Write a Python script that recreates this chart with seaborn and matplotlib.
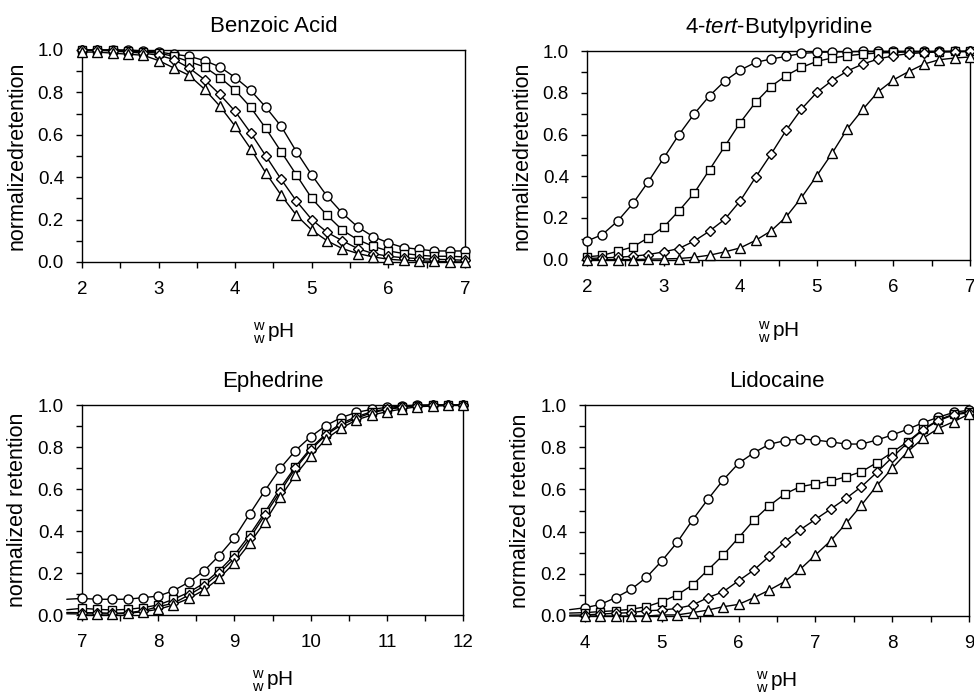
import matplotlib
matplotlib.use("Agg")
import matplotlib.pyplot as plt
import seaborn as sns
from matplotlib.ticker import MultipleLocator, FormatStrFormatter

# pH grids
ph_benzoic = [2.0, 2.2, 2.4, 2.6, 2.8, 3.0, 3.2, 3.4, 3.6, 3.8, 4.0, 4.2, 4.4,
              4.6, 4.8, 5.0, 5.2, 5.4, 5.6, 5.8, 6.0, 6.2, 6.4, 6.6, 6.8, 7.0]
ph_butyl = ph_benzoic
ph_ephedrine = [7.0, 7.2, 7.4, 7.6, 7.8, 8.0, 8.2, 8.4, 8.6, 8.8, 9.0, 9.2, 9.4,
                9.6, 9.8, 10.0, 10.2, 10.4, 10.6, 10.8, 11.0, 11.2, 11.4, 11.6, 11.8, 12.0]
ph_lidocaine = [4.0, 4.2, 4.4, 4.6, 4.8, 5.0, 5.2, 5.4, 5.6, 5.8, 6.0, 6.2, 6.4,
                6.6, 6.8, 7.0, 7.2, 7.4, 7.6, 7.8, 8.0, 8.2, 8.4, 8.6, 8.8, 9.0]

# Benzoic acid
benz_circle = [1.0, 1.0, 1.0, 1.0, 0.995, 0.99, 0.98, 0.97, 0.95, 0.92, 0.87, 0.81, 0.73,
               0.64, 0.52, 0.41, 0.31, 0.23, 0.165, 0.12, 0.09, 0.068, 0.06, 0.052, 0.052, 0.052]
benz_square = [1.0, 1.0, 1.0, 0.995, 0.99, 0.985, 0.97, 0.945, 0.92, 0.87, 0.81, 0.73, 0.63,
               0.52, 0.41, 0.30, 0.22, 0.15, 0.105, 0.074, 0.052, 0.04, 0.032, 0.027, 0.027, 0.024]
benz_diamond = [1.0, 1.0, 0.995, 0.99, 0.985, 0.975, 0.955, 0.915, 0.86, 0.79, 0.71, 0.61, 0.50,
                0.39, 0.287, 0.20, 0.14, 0.10, 0.063, 0.04, 0.027, 0.02, 0.016, 0.013, 0.011, 0.008]
benz_triangle = [0.99, 0.99, 0.985, 0.98, 0.975, 0.95, 0.915, 0.88, 0.815, 0.735, 0.64, 0.535, 0.42,
                 0.315, 0.22, 0.15, 0.10, 0.063, 0.04, 0.024, 0.013, 0.008, 0.005, 0.003, 0.001, 0.0]

# 4-tert-Butylpyridine
buty_circle = [0.089, 0.12, 0.185, 0.27, 0.374, 0.487, 0.60, 0.70, 0.787, 0.858, 0.91, 0.947, 0.963,
               0.976, 0.99, 0.995, 0.997, 0.998, 1.0, 1.0, 1.0, 1.0, 1.0, 1.0, 1.0, 1.0]
buty_square = [0.013, 0.02, 0.04, 0.061, 0.105, 0.156, 0.234, 0.32, 0.432, 0.545, 0.658, 0.755, 0.831,
               0.884, 0.923, 0.952, 0.968, 0.979, 0.987, 0.992, 0.995, 0.997, 0.998, 0.999, 1.0, 1.0]
buty_diamond = [0.005, 0.008, 0.011, 0.016, 0.024, 0.037, 0.053, 0.089, 0.137, 0.194, 0.282, 0.395, 0.505,
                0.621, 0.723, 0.803, 0.86, 0.906, 0.939, 0.963, 0.979, 0.989, 0.994, 0.997, 0.998, 1.0]
buty_triangle = [0.0, 0.0, 0.0, 0.0, 0.002, 0.003, 0.005, 0.011, 0.021, 0.037, 0.056, 0.092, 0.137,
                 0.205, 0.298, 0.403, 0.511, 0.629, 0.721, 0.806, 0.863, 0.903, 0.939, 0.96, 0.968, 0.973]

# Ephedrine
ephe_circle = [0.079, 0.075, 0.075, 0.075, 0.083, 0.09, 0.116, 0.156, 0.21, 0.283, 0.368, 0.481, 0.592,
               0.698, 0.783, 0.849, 0.902, 0.94, 0.965, 0.979, 0.989, 0.995, 1.0, 1.0, 1.0, 1.0]
ephe_square = [0.032, 0.027, 0.024, 0.027, 0.035, 0.048, 0.075, 0.108, 0.151, 0.211, 0.286, 0.381, 0.489,
               0.603, 0.706, 0.794, 0.862, 0.913, 0.944, 0.968, 0.981, 0.992, 0.997, 1.0, 1.0, 1.0]
ephe_diamond = [0.011, 0.011, 0.008, 0.011, 0.02, 0.04, 0.056, 0.095, 0.138, 0.198, 0.27, 0.365, 0.476,
                0.587, 0.698, 0.786, 0.857, 0.905, 0.937, 0.963, 0.979, 0.989, 0.995, 0.998, 1.0, 1.0]
ephe_triangle = [0.005, 0.005, 0.005, 0.008, 0.016, 0.027, 0.048, 0.079, 0.119, 0.175, 0.249, 0.341, 0.444,
                 0.56, 0.667, 0.757, 0.838, 0.889, 0.929, 0.952, 0.968, 0.981, 0.992, 0.995, 0.998, 1.0]

# Lidocaine
lido_circle = [0.039, 0.055, 0.087, 0.126, 0.183, 0.261, 0.349, 0.455, 0.553, 0.645, 0.724, 0.774, 0.814,
               0.831, 0.839, 0.834, 0.825, 0.815, 0.815, 0.834, 0.858, 0.885, 0.916, 0.942, 0.965, 0.976]
lido_square = [0.016, 0.021, 0.025, 0.032, 0.044, 0.068, 0.10, 0.147, 0.218, 0.289, 0.371, 0.455, 0.523,
               0.578, 0.613, 0.626, 0.64, 0.66, 0.684, 0.727, 0.776, 0.826, 0.885, 0.929, 0.957, 0.968]
lido_diamond = [0.005, 0.009, 0.013, 0.016, 0.025, 0.028, 0.036, 0.052, 0.087, 0.115, 0.167, 0.218, 0.284,
                0.352, 0.408, 0.458, 0.507, 0.558, 0.613, 0.681, 0.752, 0.821, 0.882, 0.926, 0.953, 0.964]
lido_triangle = [0.0, 0.0, 0.0, 0.0, 0.0, 0.005, 0.005, 0.016, 0.028, 0.044, 0.055, 0.087, 0.123,
                 0.163, 0.221, 0.289, 0.357, 0.439, 0.526, 0.618, 0.70, 0.779, 0.842, 0.889, 0.921, 0.957]

# fitted curves in the bottom panels start a little left of the axis
lead_ph = [None, None, 6.8, 3.8]
lead_vals = [None, None,
             [0.075, 0.025, 0.012, 0.006],
             [0.03, 0.014, 0.004, 0.0]]

titles = ['Benzoic Acid', r'4-$\it{tert}$-Butylpyridine', 'Ephedrine', 'Lidocaine']
ylabels = ['normalizedretention', 'normalizedretention',
           'normalized retention', 'normalized retention']
xlims = [(2, 7), (2, 7), (7, 12), (4, 9)]
ph_sets = [ph_benzoic, ph_butyl, ph_ephedrine, ph_lidocaine]
series_sets = [
    [benz_circle, benz_square, benz_diamond, benz_triangle],
    [buty_circle, buty_square, buty_diamond, buty_triangle],
    [ephe_circle, ephe_square, ephe_diamond, ephe_triangle],
    [lido_circle, lido_square, lido_diamond, lido_triangle],
]
markers = ['o', 's', 'D', '^']
msizes = [6.5, 5.5, 4.8, 6.5]

sns.set_style("ticks")
plt.rcParams['font.family'] = ['Liberation Sans', 'DejaVu Sans']
plt.rcParams['mathtext.fontset'] = 'custom'
plt.rcParams['mathtext.rm'] = 'Liberation Sans'
plt.rcParams['mathtext.it'] = 'Liberation Sans:italic'
plt.rcParams['text.color'] = 'black'
plt.rcParams['axes.labelcolor'] = 'black'

fig = plt.figure(figsize=(9.74, 6.94), dpi=100)
rects = [[0.0842, 0.6225, 0.3932, 0.3055],
         [0.6027, 0.6260, 0.3932, 0.3000],
         [0.0842, 0.1138, 0.3912, 0.3026],
         [0.6006, 0.1124, 0.3943, 0.3040]]
xlabelpads = [16, 17, 12, 12]

for i in range(4):
    ax = fig.add_axes(rects[i])
    for k, (vals, m, ms) in enumerate(zip(series_sets[i], markers, msizes)):
        xs, ys = list(ph_sets[i]), list(vals)
        if lead_ph[i] is not None:
            xs = [lead_ph[i]] + xs
            ys = [lead_vals[i][k]] + ys
        # fitted line
        sns.lineplot(x=xs, y=ys, ax=ax, color='black', lw=1, clip_on=False, zorder=3)
        # open markers
        sns.lineplot(x=ph_sets[i], y=vals, ax=ax, color='black', ls='', marker=m, ms=ms,
                     mfc='white', mec='black', mew=1, clip_on=False, zorder=4)
    ax.set_xlim(*xlims[i])
    ax.set_ylim(0, 1)
    ax.xaxis.set_major_locator(MultipleLocator(1))
    ax.xaxis.set_minor_locator(MultipleLocator(0.5))
    ax.yaxis.set_major_locator(MultipleLocator(0.2))
    ax.yaxis.set_minor_locator(MultipleLocator(0.1))
    ax.yaxis.set_major_formatter(FormatStrFormatter('%.1f'))
    ax.tick_params(which='both', direction='out', length=4, width=1, colors='black',
                   top=False, right=False)
    ax.tick_params(axis='x', which='major', labelsize=13.5, pad=10)
    ax.tick_params(axis='y', which='major', labelsize=13.5, pad=9)
    for s in ax.spines.values():
        s.set_linewidth(1)
        s.set_color('black')
    ax.set_title(titles[i], fontsize=16, pad=13)
    ax.set_ylabel(ylabels[i], fontsize=15.5, labelpad=7)
    ax.set_xlabel(r'${}^{\mathrm{w}}_{\mathrm{w}}\,$pH', fontsize=15, labelpad=xlabelpads[i])

plt.savefig('out.png', dpi=100)
